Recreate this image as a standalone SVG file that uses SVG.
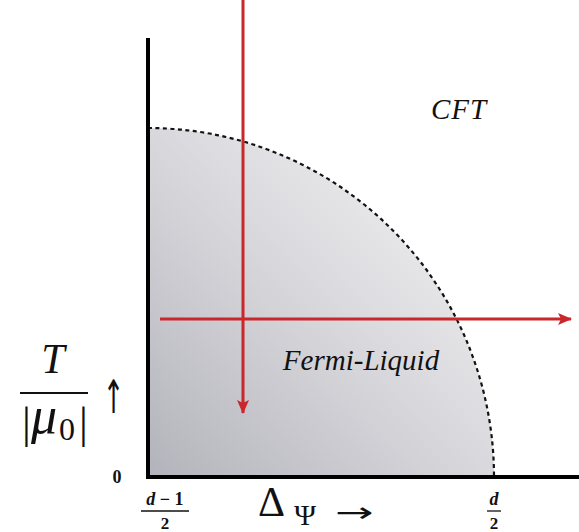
<svg xmlns="http://www.w3.org/2000/svg" width="579" height="532" viewBox="0 0 579 532">
<style>
.ax{stroke:#000;stroke-width:4;fill:none}
.red{stroke:#c9272b;stroke-width:3;fill:none}
.it{font-family:"Liberation Serif","DejaVu Serif",serif;font-style:italic;fill:#111}
.rm{font-family:"Liberation Serif","DejaVu Serif",serif;fill:#111}
.bd{font-family:"Liberation Serif","DejaVu Serif",serif;font-weight:bold;fill:#111}
.sym{font-family:"DejaVu Sans",sans-serif;fill:#111}
</style>
<defs>
<linearGradient id="g" x1="148" y1="477" x2="470" y2="160" gradientUnits="userSpaceOnUse">
<stop offset="0" stop-color="#b3b3bb"/>
<stop offset="0.6" stop-color="#dcdce0"/>
<stop offset="1" stop-color="#f2f2f3"/>
</linearGradient>
<marker id="ah" viewBox="0 0 14 12" refX="13" refY="6" markerWidth="14" markerHeight="12" markerUnits="userSpaceOnUse" orient="auto">
<path d="M0,0 L14,6 L0,12 L3,6 Z" fill="#c9272b"/>
</marker>
</defs>
<g id="region">
<path d="M148,128 A346,349 0 0 1 494,477 L148,477 Z" fill="url(#g)"/>
<path d="M148,128 A346,349 0 0 1 494,477" fill="none" stroke="#111" stroke-width="2.2" stroke-dasharray="4,3.5"/>
</g>
<g id="axes">
<path class="ax" d="M148,38 V477 H579"/>
</g>
<g id="connectors">
<line class="red" x1="243" y1="0" x2="243" y2="413" marker-end="url(#ah)"/>
<line class="red" x1="160" y1="319" x2="571" y2="319" marker-end="url(#ah)"/>
</g>
<g id="labels">
<text class="it" x="459" y="119" font-size="29" text-anchor="middle" letter-spacing="1">CFT</text>
<text class="it" x="361" y="370" font-size="29" text-anchor="middle">Fermi-Liquid</text>
<text class="it" x="53" y="373" font-size="42" text-anchor="middle">T</text>
<line x1="20" y1="393" x2="88" y2="393" stroke="#111" stroke-width="1.8"/>
<text class="rm" x="22" y="438" font-size="44">|</text>
<text class="it" x="31" y="433" font-size="52">μ</text>
<text class="rm" x="59" y="440" font-size="32">0</text>
<text class="rm" x="79" y="438" font-size="44">|</text>
<text class="sym" transform="translate(113.5,0) scale(0.55,1)" x="0" y="413" font-size="46" text-anchor="middle">↑</text>
<text class="bd" x="117" y="483" font-size="18" text-anchor="middle">0</text>
<text class="bd" x="165" y="505" font-size="18" text-anchor="middle"><tspan font-style="italic">d</tspan> − 1</text>
<line x1="141" y1="511" x2="189" y2="511" stroke="#111" stroke-width="1.3"/>
<text class="bd" x="165" y="529" font-size="17" text-anchor="middle">2</text>
<text class="bd" x="494" y="505" font-size="18" text-anchor="middle" font-style="italic">d</text>
<line x1="487" y1="511" x2="501" y2="511" stroke="#111" stroke-width="1.3"/>
<text class="bd" x="494" y="529" font-size="17" text-anchor="middle">2</text>
<text class="rm" x="258" y="516" font-size="42">Δ</text>
<text class="rm" x="294" y="525" font-size="30">Ψ</text>
<text class="sym" transform="translate(354,513) scale(1,0.6)" x="0" y="15.6" font-size="46" text-anchor="middle">→</text>
</g>
</svg>
